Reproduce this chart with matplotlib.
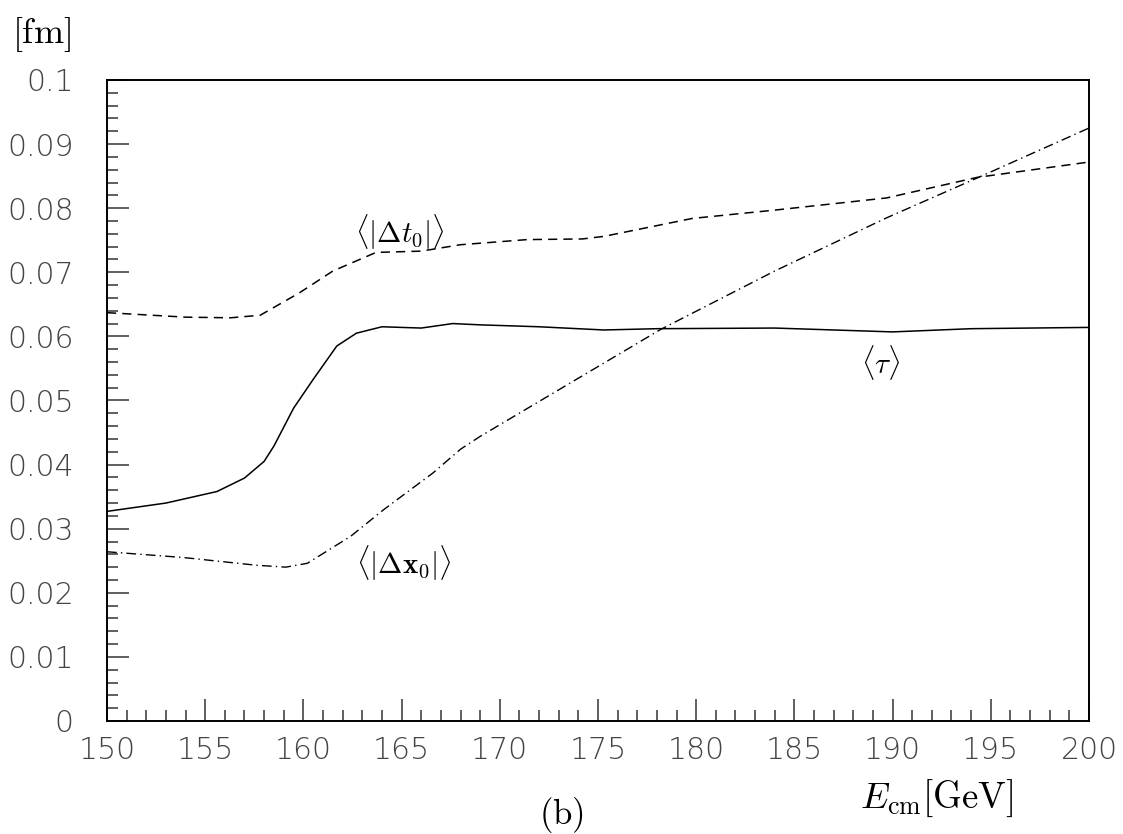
import matplotlib
matplotlib.use("Agg")
import matplotlib.pyplot as plt
from matplotlib.ticker import MultipleLocator, FuncFormatter

plt.rcParams['mathtext.fontset'] = 'cm'

# <tau> (solid)
tau_e = [150, 153, 155.6, 157, 158, 158.5, 159.5, 160.5, 161.7, 162.7, 164, 166, 167.6, 169,
         172, 175.3, 178, 184, 190, 194, 200]
tau_v = [0.0327, 0.0340, 0.0358, 0.0379, 0.0405, 0.0429, 0.0488, 0.0533, 0.0585, 0.0605, 0.0615,
         0.0613, 0.0620, 0.0618, 0.0615, 0.0610, 0.0612, 0.0613, 0.0607, 0.0612, 0.0614]

# <|dt0|> (dashed)
dt_e = [150, 154, 156.3, 157.8, 159.8, 161.5, 163.7, 166, 168, 171.4, 174.2, 175.3, 179.8,
        184, 189.7, 194.3, 200]
dt_v = [0.0637, 0.0630, 0.0629, 0.0633, 0.0668, 0.0702, 0.0731, 0.0733, 0.0743, 0.0751, 0.0752,
        0.0756, 0.0784, 0.0797, 0.0816, 0.0848, 0.0872]

# <|dx0|> (dash-dot)
dx_e = [150, 153.9, 157.6, 159.1, 160.2, 162.4, 164.1, 166.6, 168, 169, 178.2, 184, 189.7,
        194.3, 200]
dx_v = [0.0264, 0.0255, 0.0243, 0.0240, 0.0246, 0.0288, 0.0330, 0.0387, 0.0424, 0.0444, 0.0611,
        0.0702, 0.0785, 0.0847, 0.0925]

fig = plt.figure(figsize=(11.23, 8.34), dpi=100)
ax = fig.add_axes([0.0953, 0.1355, 0.8744, 0.7686])

ax.plot(tau_e, tau_v, color='black', lw=1.1, ls='-')
ax.plot(dt_e, dt_v, color='black', lw=1.1, ls=(0, (6, 4)))
ax.plot(dx_e, dx_v, color='black', lw=1.0, ls=(0, (7, 3, 1, 3)))

ax.set_xlim(150, 200)
ax.set_ylim(0, 0.1)

ax.xaxis.set_major_locator(MultipleLocator(5))
ax.xaxis.set_minor_locator(MultipleLocator(1))
ax.yaxis.set_major_locator(MultipleLocator(0.01))
ax.yaxis.set_minor_locator(MultipleLocator(0.002))
ax.yaxis.set_major_formatter(FuncFormatter(lambda v, p: '0' if abs(v) < 1e-9 else ('%.2f' % v).rstrip('0')))

ax.tick_params(which='both', direction='in', top=False, right=False, colors='#444444',
               labelsize=21.5, width=1.2)
ax.tick_params(which='major', length=16)
ax.tick_params(which='minor', length=8)
ax.tick_params(axis='y', pad=24)
ax.tick_params(axis='x', pad=11)
for lab in ax.get_xticklabels() + ax.get_yticklabels():
    lab.set_fontweight('light')
for sp in ax.spines.values():
    sp.set_linewidth(1.4)

ax.text(164.9, 0.0763, r'$\langle|\Delta t_0|\rangle$', fontsize=21, ha='center', va='center')
ax.text(165.1, 0.0246, r'$\langle|\Delta \mathbf{x}_0|\rangle$', fontsize=21, ha='center', va='center')
ax.text(189.4, 0.0560, r'$\langle\tau\rangle$', fontsize=21, ha='center', va='center')

fig.text(41 / 1123, 1 - 35 / 834, r'$\mathrm{[fm]}$', fontsize=26, ha='center', va='center')
fig.text(937 / 1123, 1 - 798 / 834, r'$E_{\mathrm{cm}}\mathrm{[GeV]}$', fontsize=26.5, ha='center', va='center')
fig.text(561 / 1123, 1 - 815 / 834, r'$\mathrm{(b)}$', fontsize=25, ha='center', va='center')

fig.savefig('out.png', dpi=100)
